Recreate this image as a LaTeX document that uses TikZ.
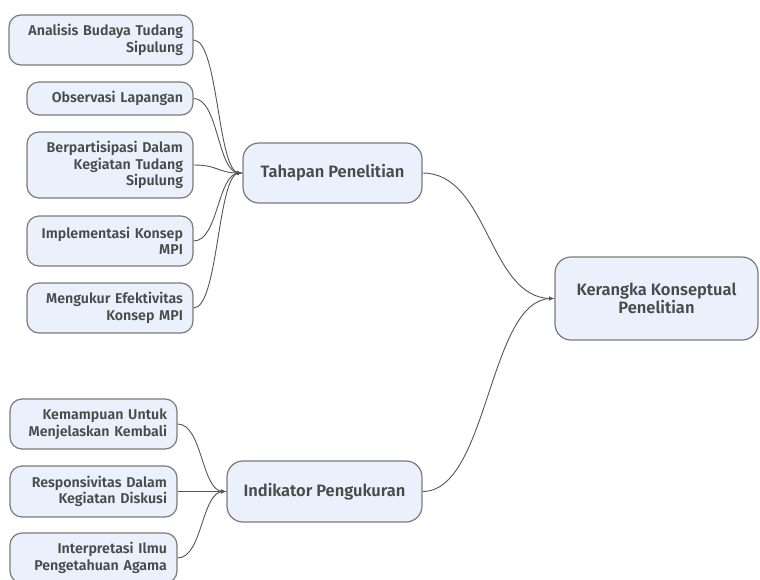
\documentclass[tikz,border=0pt]{standalone}
\usepackage{fontspec}
\setmainfont{Fira Sans}[UprightFont = * SemiBold]
\usepackage{tikz}
\usetikzlibrary{arrows,calc}
\definecolor{boxfill}{HTML}{EAF1FD}
\definecolor{boxline}{HTML}{7A7A7A}
\definecolor{txt}{HTML}{4A4A4A}
\definecolor{linkcol}{HTML}{555555}
\tikzset{
    leaf/.style = {
        draw=boxline,
        fill=boxfill,
        shape=rectangle,
        rounded corners=12pt,
        align=right,
        inner xsep=10pt,
        text=txt,
        font=\fontsize{14.2}{16.5}\selectfont,
        line width=1.2pt
    },
    topic/.style = {
        draw=boxline,
        fill=boxfill,
        shape=rectangle,
        rounded corners=16pt,
        align=center,
        text=txt,
        font=\fontsize{16.5}{18.5}\selectfont,
        line width=1.2pt
    },
    link/.style = {
        draw=linkcol,
        line width=0.9pt
    },
    >=latex',
}
\begin{document}
\begin{tikzpicture}[x=1pt, y=-1pt]
            \useasboundingbox (0,0) rectangle (760,579);

            \node[topic, minimum width=203pt, minimum height=83pt] (kerangka) at (656.5,298.5) {Kerangka Konseptual\\Penelitian};
            \node[topic, minimum width=179pt, minimum height=60pt] (tahapan) at (332.5,173) {Tahapan Penelitian};
            \node[topic, minimum width=195pt, minimum height=61pt] (indikator) at (324.5,491.5) {Indikator Pengukuran};

            \node[leaf, text width=164pt, minimum height=50pt] (analisis) at (101,40) {Analisis Budaya Tudang\\Sipulung};
            \node[leaf, text width=146pt, minimum height=33pt] (observasi) at (110,98.5) {Observasi Lapangan};
            \node[leaf, text width=146pt, minimum height=66pt] (partisipasi) at (110,165) {Berpartisipasi Dalam\\Kegiatan Tudang\\Sipulung};
            \node[leaf, text width=146pt, minimum height=50pt] (implementasi) at (110,241) {Implementasi Konsep\\MPI};
            \node[leaf, text width=146pt, minimum height=50pt] (mengukur) at (110,308) {Mengukur Efektivitas\\Konsep MPI};

            \node[leaf, text width=147pt, minimum height=50pt] (kemampuan) at (93.5,424) {Kemampuan Untuk\\Menjelaskan Kembali};
            \node[leaf, text width=147pt, minimum height=51pt] (responsif) at (93.5,491.5) {Responsivitas Dalam\\Kegiatan Diskusi};
            \node[leaf, text width=147pt, minimum height=50pt] (interpretasi) at (93.5,558) {Interpretasi Ilmu\\Pengetahuan Agama};

            \foreach \c in {analisis,observasi,partisipasi,implementasi,mengukur}
                \path[link, ->] (\c.east) .. controls +(25,0) and +(-25,0) .. (tahapan.west);
            \foreach \c in {kemampuan,responsif,interpretasi}
                \path[link, ->] (\c.east) .. controls +(25,0) and +(-25,0) .. (indikator.west);
            \path[link, ->] (tahapan.east) .. controls +(66,0) and +(-66,0) .. (kerangka.west);
            \path[link, ->] (indikator.east) .. controls +(66,0) and +(-66,0) .. (kerangka.west);
        \end{tikzpicture}
\end{document}
